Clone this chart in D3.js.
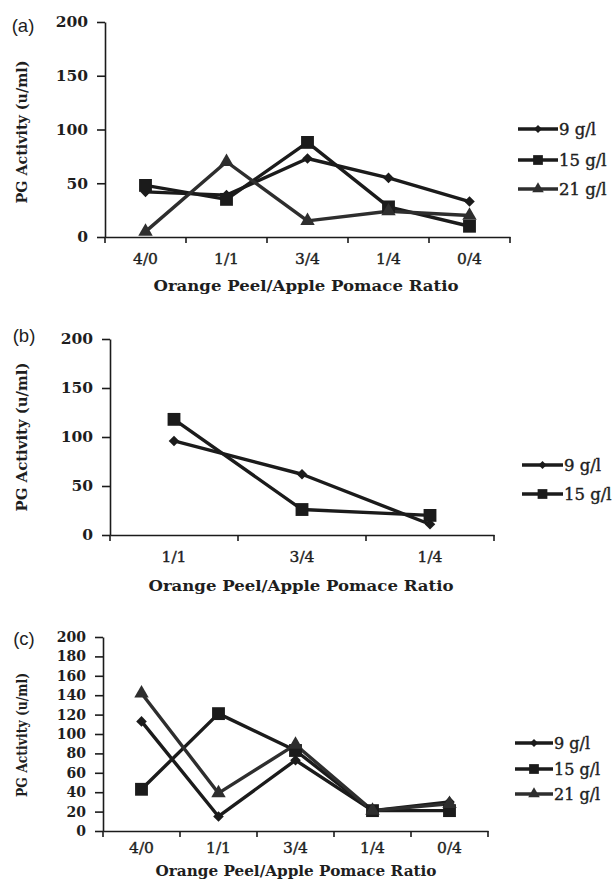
<!DOCTYPE html>
<html>
<head>
<meta charset="utf-8">
<script src="https://cdn.jsdelivr.net/npm/d3@7"></script>
<style>
  html, body { margin: 0; padding: 0; background: #ffffff; }
  svg { display: block; }
</style>
</head>
<body>
<svg id="chart" width="615" height="880"></svg>
<script>
// ---------------- DATA ----------------
const seriesNames = ["9 g/l", "15 g/l", "21 g/l"];
const xTitle = "Orange Peel/Apple Pomace Ratio";
const yTitle = "PG Activity (u/ml)";

// Panel (a)
const catsA = ["4/0", "1/1", "3/4", "1/4", "0/4"];
const a9  = [42, 39, 73, 55, 33];
const a15 = [48, 35, 88, 28, 10];
const a21 = [5, 70, 15, 24, 20];
const ticksA = [0, 50, 100, 150, 200];

// Panel (b)
const catsB = ["1/1", "3/4", "1/4"];
const b9  = [96, 62, 11];
const b15 = [118, 26, 20];
const ticksB = [0, 50, 100, 150, 200];

// Panel (c)
const catsC = ["4/0", "1/1", "3/4", "1/4", "0/4"];
const c9  = [113, 15, 73, 21, 30];
const c15 = [43, 121, 83, 21, 21];
const c21 = [142, 39, 89, 21, 28];
const ticksC = [0, 20, 40, 60, 80, 100, 120, 140, 160, 180, 200];

// ---------------- DRAWING ----------------
const svg = d3.select("#chart");
const INK = "#1b1b1b";
const TXT = "#1e1e1e";

const diamond = {
  draw(ctx, size) {
    const r = Math.sqrt(size / 2);
    ctx.moveTo(0, -r); ctx.lineTo(r, 0); ctx.lineTo(0, r); ctx.lineTo(-r, 0); ctx.closePath();
  }
};
const shapes = [diamond, d3.symbolSquare, d3.symbolTriangle];
const markSize = [56, 165, 90];
const legSize = [32, 95, 58];
const colors = [INK, INK, "#2e2e2e"];

function drawPanel(cfg) {
  const g = svg.append("g");
  const x = d3.scaleBand().domain(cfg.cats).range([cfg.x0, cfg.x1]).padding(0);
  const y = d3.scaleLinear().domain([0, 200]).range([cfg.yb, cfg.yt]);

  // Y axis
  const ya = g.append("g").attr("transform", `translate(${cfg.x0},0)`)
    .call(d3.axisLeft(y).tickValues(cfg.ticks).tickSize(8).tickPadding(cfg.yPad).tickSizeOuter(0));
  ya.select(".domain").attr("stroke", INK).attr("stroke-width", 1.6);
  ya.selectAll(".tick line").attr("stroke", INK).attr("stroke-width", 1.6);
  ya.selectAll(".tick text")
    .attr("fill", TXT)
    .style("font-family", "'DejaVu Serif', serif")
    .style("font-weight", "bold")
    .style("font-size", cfg.yFont + "px");

  // X axis
  const xa = g.append("g").attr("transform", `translate(0,${cfg.yb})`)
    .call(d3.axisBottom(x).tickSize(0).tickPadding(cfg.xPad));
  xa.select(".domain").attr("stroke", INK).attr("stroke-width", 1.6);
  xa.selectAll(".tick text")
    .attr("fill", TXT)
    .attr("stroke", TXT).attr("stroke-width", 0.4)
    .style("font-family", "'DejaVu Serif', serif")
    .style("font-size", cfg.xFont + "px");
  // boundary tick marks
  const bounds = d3.range(cfg.cats.length + 1).map(i => cfg.x0 + i * x.bandwidth());
  g.selectAll(".btick").data(bounds).join("line")
    .attr("x1", d => d).attr("x2", d => d)
    .attr("y1", cfg.yb).attr("y2", cfg.yb + 6)
    .attr("stroke", INK).attr("stroke-width", 1.6);

  // Series
  const line = d3.line().x((d, i) => x(cfg.cats[i]) + x.bandwidth() / 2).y(d => y(d));
  cfg.series.forEach((vals, si) => {
    g.append("path").datum(vals)
      .attr("d", line)
      .attr("fill", "none")
      .attr("stroke", colors[si])
      .attr("stroke-width", 3.4)
      .attr("stroke-linejoin", "round");
  });
  cfg.series.forEach((vals, si) => {
    g.selectAll(null).data(vals).join("path")
      .attr("transform", (d, i) => `translate(${x(cfg.cats[i]) + x.bandwidth() / 2},${y(d)})`)
      .attr("d", d3.symbol().type(shapes[si]).size(markSize[si]))
      .attr("fill", colors[si]);
  });

  // Legend
  cfg.series.forEach((vals, si) => {
    const ly = cfg.legY[si];
    g.append("line")
      .attr("x1", cfg.legX0).attr("x2", cfg.legX1)
      .attr("y1", ly).attr("y2", ly)
      .attr("stroke", colors[si]).attr("stroke-width", 3.4);
    g.append("path")
      .attr("transform", `translate(${(cfg.legX0 + cfg.legX1) / 2},${ly})`)
      .attr("d", d3.symbol().type(shapes[si]).size(legSize[si]))
      .attr("fill", colors[si]);
    g.append("text")
      .attr("x", cfg.legX1 + 1).attr("y", ly)
      .attr("dy", "0.35em")
      .attr("fill", TXT)
      .attr("stroke", TXT).attr("stroke-width", 0.4)
      .style("font-family", "'DejaVu Serif', serif")
      .style("font-size", cfg.legFont + "px")
      .text(seriesNames[si]);
  });

  // Axis titles
  g.append("text")
    .attr("x", cfg.xtX).attr("y", cfg.xtY).attr("dy", "0.35em")
    .attr("text-anchor", "middle")
    .attr("textLength", cfg.xtLen).attr("lengthAdjust", "spacingAndGlyphs")
    .attr("fill", TXT)
    .style("font-family", "'DejaVu Serif', serif")
    .style("font-weight", "bold")
    .style("font-size", cfg.xtFont + "px")
    .text(xTitle);
  g.append("text")
    .attr("transform", `translate(${cfg.ytX},${cfg.ytY}) rotate(-90)`)
    .attr("dy", "0.35em")
    .attr("text-anchor", "middle")
    .attr("textLength", cfg.ytLen).attr("lengthAdjust", "spacingAndGlyphs")
    .attr("fill", TXT)
    .style("font-family", "'DejaVu Serif', serif")
    .style("font-weight", "bold")
    .style("font-size", cfg.ytFont + "px")
    .text(yTitle);

  // Panel letter
  g.append("text")
    .attr("x", cfg.lblX).attr("y", cfg.lblY).attr("dy", "0.35em")
    .attr("text-anchor", "middle")
    .attr("fill", TXT)
    .style("font-family", "'Liberation Sans', Arial, sans-serif")
    .style("font-size", "18.5px")
    .text(cfg.label);
}

drawPanel({
  label: "(a)", lblX: 23, lblY: 26,
  cats: catsA, series: [a9, a15, a21], ticks: ticksA,
  x0: 105, x1: 510, yt: 22, yb: 237,
  yFont: 15.5, yPad: 9, xFont: 15.5, xPad: 16,
  legX0: 518, legX1: 558, legY: [129, 160, 189], legFont: 16.5,
  xtX: 306, xtY: 286, xtLen: 305, xtFont: 15.5,
  ytX: 22, ytY: 132, ytLen: 143, ytFont: 15.5
});

drawPanel({
  label: "(b)", lblX: 24, lblY: 336,
  cats: catsB, series: [b9, b15], ticks: ticksB,
  x0: 110, x1: 494, yt: 339, yb: 535,
  yFont: 15.5, yPad: 9, xFont: 15.5, xPad: 16,
  legX0: 522, legX1: 563, legY: [465, 494], legFont: 16.5,
  xtX: 301, xtY: 586, xtLen: 305, xtFont: 15.5,
  ytX: 22, ytY: 437, ytLen: 149, ytFont: 15.5
});

drawPanel({
  label: "(c)", lblX: 24, lblY: 639,
  cats: catsC, series: [c9, c15, c21], ticks: ticksC,
  x0: 103, x1: 488, yt: 637, yb: 831,
  yFont: 14, yPad: 9, xFont: 15.5, xPad: 11,
  legX0: 515, legX1: 553, legY: [743, 769, 794], legFont: 16,
  xtX: 296, xtY: 871, xtLen: 281, xtFont: 15,
  ytX: 22, ytY: 735, ytLen: 124, ytFont: 14
});
</script>
</body>
</html>
